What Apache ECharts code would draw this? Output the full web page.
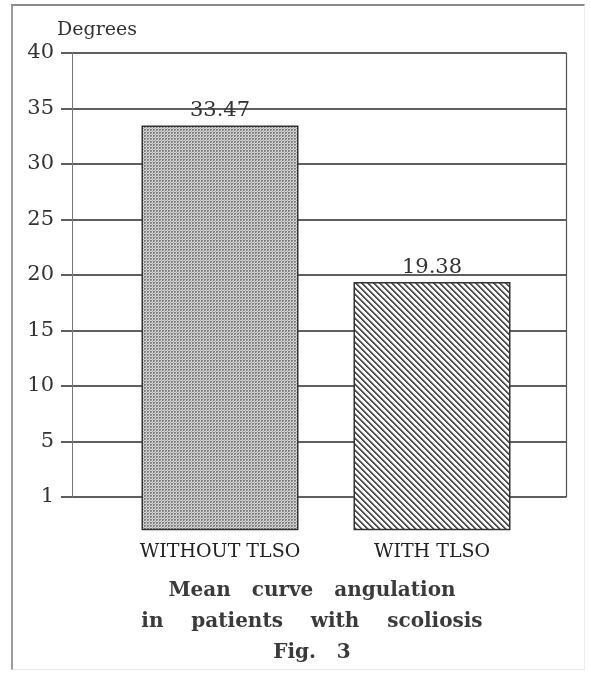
<!DOCTYPE html>
<html>
<head>
<meta charset="utf-8">
<script src="https://cdn.jsdelivr.net/npm/echarts@6/dist/echarts.min.js"></script>
<style>
html,body{margin:0;padding:0;background:#fff;}
#frame{position:absolute;left:0;top:0;width:590px;height:674px;}
#edge{position:absolute;left:11px;top:4px;width:574px;height:666px;border-top:2px solid #8a8a8a;border-left:2px solid #9a9a9a;border-right:1px solid #ececec;border-bottom:1px solid #e6e6e6;box-sizing:border-box;}
#chart{position:absolute;left:0;top:0;width:590px;height:674px;}
</style>
</head>
<body>
<div id="frame"><div id="edge"></div><div id="chart"></div></div>
<script>
// ---- data ----
const categories = ['WITHOUT TLSO', 'WITH TLSO'];
const meanAngulation = [33.47, 19.38];
const yTickLabels = ['1', '5', '10', '15', '20', '25', '30', '35', '40'];
const yAxisName = 'Degrees';
const caption = ['Mean   curve   angulation', 'in    patients    with    scoliosis', 'Fig.   3'];

// ---- patterns ----
function makeTile(w, h, painter) {
  const c = document.createElement('canvas');
  c.width = w; c.height = h;
  const ctx = c.getContext('2d');
  painter(ctx, w, h);
  return c;
}
const stipple = makeTile(3, 3, function (ctx) {
  ctx.fillStyle = '#d6d6d6'; ctx.fillRect(0, 0, 3, 3);
  ctx.fillStyle = '#7c7c7c';
  ctx.fillRect(0, 0, 1, 1); ctx.fillRect(1, 0, 1, 1); ctx.fillRect(0, 1, 1, 1);
  ctx.fillStyle = '#a8a8a8'; ctx.fillRect(2, 2, 1, 1); ctx.fillRect(1, 1, 1, 1);
});
const hatch = makeTile(6, 6, function (ctx, w, h) {
  ctx.fillStyle = '#ffffff'; ctx.fillRect(0, 0, w, h);
  for (let y = 0; y < h; y++) {
    for (let x = 0; x < w; x++) {
      const d = ((x - y) % 6 + 6) % 6;
      if (d === 0 || d === 1) { ctx.fillStyle = '#505050'; ctx.fillRect(x, y, 1, 1); }
      else if (d === 2) { ctx.fillStyle = '#b0b0b0'; ctx.fillRect(x, y, 1, 1); }
    }
  }
});
const barFills = [stipple, hatch];

const serif = 'DejaVu Serif';
const chart = echarts.init(document.getElementById('chart'), null, {renderer: 'canvas'});

chart.setOption({
  backgroundColor: 'transparent',
  animation: false,
  title: [
    {
      text: yAxisName, left: 52, top: 15,
      textStyle: {fontFamily: serif, fontSize: 19, fontWeight: 'normal', color: '#333', lineHeight: 20}
    },
    {
      text: caption.join('\n'), left: 307, top: 570, textAlign: 'center',
      textStyle: {fontFamily: serif, fontSize: 20, fontWeight: 'bold', color: '#3a3a3a', lineHeight: 31}
    }
  ],
  grid: [
    {left: 72, top: 53, right: 24, bottom: 177},
    {left: 114, top: 53, right: 52, bottom: 177}
  ],
  xAxis: [
    {
      gridIndex: 0, type: 'category', data: categories,
      axisLine: {show: false}, axisTick: {show: false}, axisLabel: {show: false}, splitLine: {show: false}
    },
    {
      gridIndex: 1, type: 'category', data: categories, offset: 33,
      axisLine: {show: false},
      axisTick: {show: true, alignWithLabel: true, length: 4, lineStyle: {color: '#555', width: 1}},
      axisLabel: {margin: 13, fontFamily: serif, fontSize: 19, color: '#222'}
    }
  ],
  yAxis: [
    {
      gridIndex: 0, type: 'value', min: 0, max: 40, interval: 5,
      axisLine: {show: true, lineStyle: {color: '#777', width: 1}},
      axisTick: {show: true, length: 11, lineStyle: {color: '#2a2a2a', width: 1.5}},
      axisLabel: {
        margin: 18, fontFamily: serif, fontSize: 21, color: '#333', padding: [0, 0, 7, 0],
        formatter: function (v) { return yTickLabels[Math.round(v / 5)]; }
      },
      splitLine: {show: true, lineStyle: {color: '#2a2a2a', width: 1.5}}
    },
    {
      gridIndex: 0, type: 'value', position: 'right', min: 0, max: 40, interval: 5,
      axisLine: {show: true, lineStyle: {color: '#555', width: 1.2}},
      axisTick: {show: false}, axisLabel: {show: false}, splitLine: {show: false}
    },
    {
      gridIndex: 1, type: 'value', min: 0, max: 40, interval: 5, startValue: -3,
      axisLine: {show: false}, axisTick: {show: false}, axisLabel: {show: false}, splitLine: {show: false}
    }
  ],
  series: [
    {
      type: 'bar', xAxisIndex: 1, yAxisIndex: 2, barWidth: 157, clip: false,
      data: meanAngulation.map(function (v, i) {
        return {value: v, itemStyle: {color: {image: barFills[i], repeat: 'repeat'}}};
      }),
      itemStyle: {borderColor: '#333', borderWidth: 1.5},
      label: {
        show: true, position: 'top', distance: 4,
        fontFamily: serif, fontSize: 21, color: '#333',
        formatter: function (p) { return p.value.toFixed(2); }
      }
    }
  ]
});
</script>
</body>
</html>
